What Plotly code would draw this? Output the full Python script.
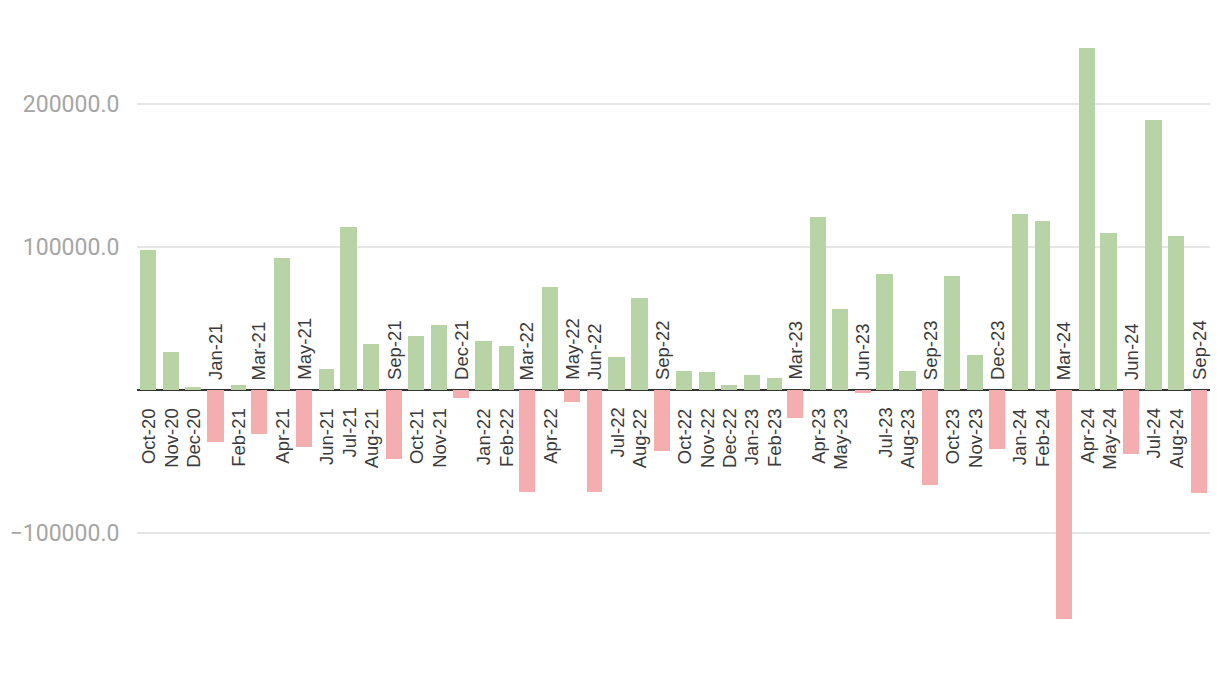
import plotly.graph_objects as go
import pandas as pd

months = ["Oct-20","Nov-20","Dec-20","Jan-21","Feb-21","Mar-21","Apr-21","May-21","Jun-21","Jul-21","Aug-21","Sep-21",
          "Oct-21","Nov-21","Dec-21","Jan-22","Feb-22","Mar-22","Apr-22","May-22","Jun-22","Jul-22","Aug-22","Sep-22",
          "Oct-22","Nov-22","Dec-22","Jan-23","Feb-23","Mar-23","Apr-23","May-23","Jun-23","Jul-23","Aug-23","Sep-23",
          "Oct-23","Nov-23","Dec-23","Jan-24","Feb-24","Mar-24","Apr-24","May-24","Jun-24","Jul-24","Aug-24","Sep-24"]
values = [98000, 26600, 2100, -36100, 3500, -30500, 92300, -39600, 14700, 114000, 32200, -48000,
          37800, 45500, -5600, 34300, 30800, -71100, 72000, -8200, -71100, 23100, 64300, -42400,
          13300, 12800, 3500, 10500, 8600, -19600, 121000, 56600, -2100, 81100, 13300, -66400,
          79700, 24500, -41300, 123000, 118000, -160100, 239200, 110000, -44500, 188800, 107700, -72000]
ytick_vals = [-100000, 100000, 200000]

dates = pd.to_datetime(months, format="%b-%y")
days = dates.days_in_month
widths = [d * 0.72 * 86400000 for d in days]
GREEN = "#b8d4a6"
RED = "#f4aeb0"
colors = [GREEN if v >= 0 else RED for v in values]

fig = go.Figure(go.Bar(x=dates, y=values, width=widths, marker=dict(color=colors, line=dict(width=0)),
                       hoverinfo="x+y"))

LBL_FONT = dict(family="Liberation Sans, Arial, sans-serif", size=18.5, color="#3a3a3a")
for d, m, v in zip(dates, months, values):
    if v >= 0:
        fig.add_annotation(x=d, y=0, text=m, textangle=-90, showarrow=False,
                           yanchor="top", yshift=-16, font=LBL_FONT)
    else:
        fig.add_annotation(x=d, y=0, text=m, textangle=-90, showarrow=False,
                           yanchor="bottom", yshift=8, font=LBL_FONT)

fig.update_layout(
    width=1220, height=674,
    margin=dict(l=137, r=10, t=30, b=34),
    plot_bgcolor="white", paper_bgcolor="white",
    font=dict(family="Roboto", size=19),
    showlegend=False,
    bargap=0,
)
fig.update_xaxes(type="date", range=["2020-09-16", "2024-09-16"], showticklabels=False,
                 showgrid=False, zeroline=False, showline=False)
fig.update_yaxes(range=[-174825, 251748], tickvals=ytick_vals,
                 ticktext=[f"{v:.1f}".replace("-", "\u2212") for v in ytick_vals],
                 tickfont=dict(size=23, color="#a6a6a6"), gridcolor="#e6e6e6", gridwidth=2,
                 zeroline=True, zerolinecolor="#333333", zerolinewidth=2,
                 ticks="outside", ticklen=12, tickcolor="rgba(0,0,0,0)", showline=False)

fig.write_html("out.html")
